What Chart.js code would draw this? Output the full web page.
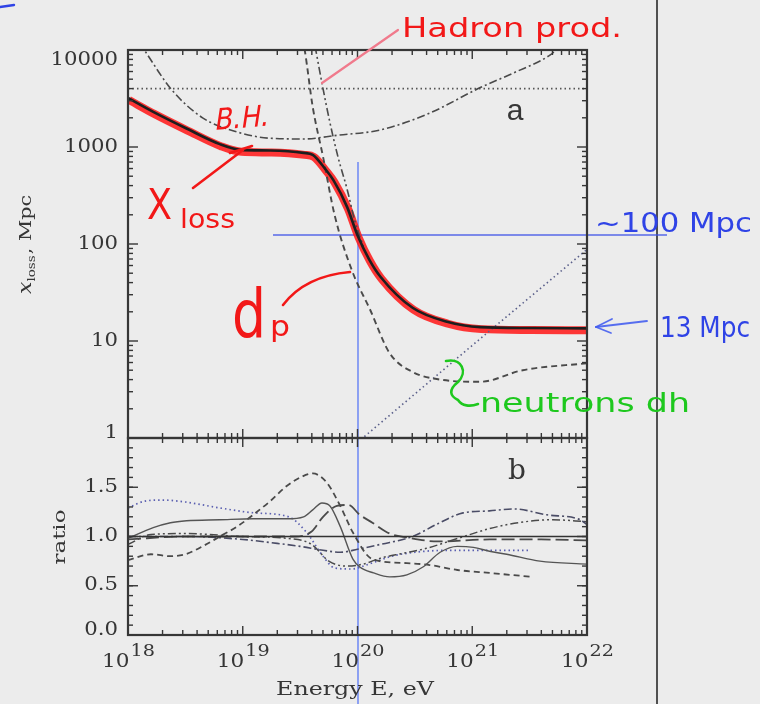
<!DOCTYPE html>
<html>
<head>
<meta charset="utf-8">
<script src="https://cdn.jsdelivr.net/npm/chart.js@4.4.1/dist/chart.umd.min.js"></script>
<style>
  html, body { margin: 0; padding: 0; background: #ececec; }
  #wrap { position: relative; width: 760px; height: 704px; overflow: hidden; }
  canvas { position: absolute; left: 0; top: 0; }
</style>
</head>
<body>
<div id="wrap">
  <canvas id="panelA" width="760" height="704"></canvas>
  <canvas id="panelB" width="760" height="704"></canvas>
</div>
<script>
// ---- axes (energy as log10 E/eV) ----
const energyTicks = [18, 19, 20, 21, 22];
const distTicks = [1, 10, 100, 1000, 10000];
const distTickLabels = ['1', '10', '100', '1000', '10000'];
const ratioTicks = [0, 0.5, 1.0, 1.5];
const ratioTickLabels = ['0.0', '0.5', '1.0', '1.5'];

// ---- panel a: attenuation / loss lengths, Mpc ----
const lossE   = [18.0, 18.22, 18.51, 18.8, 18.98, 19.24, 19.53, 19.61, 19.72, 19.79, 19.91, 20.0, 20.1, 20.2, 20.48, 20.78, 21.07, 21.5, 22.0];
const lossMpc = [3200, 2300, 1550, 1070, 935, 920, 870, 830, 590, 455, 240, 123, 70, 46, 22, 15.8, 13.9, 13.6, 13.5];

const pairE   = [18.10, 18.16, 18.38, 18.65, 18.95, 19.24, 19.53, 19.82, 20.2, 20.63, 21.07, 21.36, 21.68, 21.75];
const pairMpc = [12000, 9300, 3900, 2000, 1430, 1230, 1210, 1320, 1500, 2240, 4100, 5800, 8900, 10500];

const pionE   = [19.63, 19.69, 19.76, 19.83, 19.91, 19.98, 20.05];
const pionMpc = [11000, 4570, 1780, 790, 365, 167, 95];

const protonE   = [19.52, 19.54, 19.61, 19.70, 19.80, 19.95, 20.11, 20.28, 20.48, 20.72, 21.07, 21.44, 22.0];
const protonMpc = [13000, 10000, 2580, 790, 200, 54, 21, 7.5, 4.8, 4.0, 3.8, 5.0, 5.9];

const hubbleE   = [18, 22];
const hubbleMpc = [4000, 4000];

const neutronE   = [20.0, 21.0, 22.0];
const neutronMpc = [0.9, 9, 88];

// ---- panel b: ratios ----
const unityE = [18, 22];
const unity  = [1, 1];

const ratSolidE = [18.0, 18.22, 18.37, 18.51, 18.8, 19.09, 19.39, 19.53, 19.61, 19.69, 19.76, 19.85, 19.96, 20.02, 20.14, 20.28, 20.43, 20.57, 20.72, 20.87, 21.01, 21.15, 21.30, 21.59, 22.0];
const ratSolid  = [0.98, 1.09, 1.14, 1.16, 1.17, 1.18, 1.18, 1.2, 1.27, 1.34, 1.31, 1.10, 0.77, 0.69, 0.63, 0.59, 0.61, 0.69, 0.84, 0.90, 0.89, 0.85, 0.82, 0.75, 0.72];

const ratDashE = [18.0, 18.2, 18.37, 18.5, 18.65, 18.8, 18.95, 19.09, 19.24, 19.38, 19.52, 19.61, 19.73, 19.85, 19.96, 20.13, 20.43, 20.63, 20.87, 21.15, 21.53];
const ratDash  = [0.76, 0.82, 0.80, 0.82, 0.90, 1.0, 1.1, 1.22, 1.36, 1.51, 1.61, 1.64, 1.55, 1.31, 1.04, 0.77, 0.73, 0.71, 0.66, 0.63, 0.59];

const ratLongE = [18.0, 18.5, 19.0, 19.45, 19.6, 19.7, 19.82, 19.92, 20.02, 20.13, 20.28, 20.43, 20.7, 21.15, 21.6, 22.0];
const ratLong  = [0.97, 1.0, 1.0, 1.0, 1.05, 1.2, 1.31, 1.32, 1.22, 1.14, 1.03, 0.99, 0.95, 0.97, 0.97, 0.96];

const ratDotDashE = [18.0, 18.5, 19.0, 19.3, 19.5, 19.7, 19.85, 20.0, 20.2, 20.48, 20.7, 20.92, 21.15, 21.36, 21.65, 21.94, 22.0];
const ratDotDash  = [1.0, 1.0, 0.97, 0.93, 0.90, 0.86, 0.84, 0.87, 0.92, 1.0, 1.13, 1.24, 1.26, 1.28, 1.22, 1.17, 1.12];

const ratDDDE = [18.0, 18.2, 18.5, 19.0, 19.4, 19.6, 19.75, 19.9, 20.05, 20.2, 20.4, 20.6, 20.9, 21.15, 21.4, 21.7, 22.0];
const ratDDD  = [0.92, 1.02, 1.03, 1.0, 0.98, 0.92, 0.75, 0.70, 0.72, 0.78, 0.83, 0.88, 0.99, 1.08, 1.14, 1.17, 1.15];

const ratDotE = [18.0, 18.15, 18.3, 18.5, 18.8, 19.1, 19.4, 19.55, 19.7, 19.8, 19.95, 20.1, 20.3, 20.5, 20.8, 21.2, 21.5];
const ratDot  = [1.29, 1.36, 1.37, 1.35, 1.29, 1.24, 1.2, 1.05, 0.8, 0.68, 0.67, 0.72, 0.8, 0.84, 0.86, 0.86, 0.86];

// ---- styling ----
const INK = '#363636';
const CURVE = '#4a4a4a';
const SERIF = '"DejaVu Serif"';
const HAND = '"DejaVu Sans"';
const DASH = [6, 4], LONG = [13, 5], DOT = [1.5, 3], DASHDOT = [8, 3, 2, 3], DASHDOTDOT = [8, 3, 2, 3, 2, 3];

function series(xs, ys, style) {
  return Object.assign({
    data: xs.map((x, i) => ({ x: x, y: ys[i] })),
    pointRadius: 0, fill: false, clip: 0,
    cubicInterpolationMode: 'monotone',
    borderColor: CURVE, borderWidth: 1.6
  }, style);
}

function line(c, x1, y1, x2, y2) { c.beginPath(); c.moveTo(x1, y1); c.lineTo(x2, y2); c.stroke(); }

function stretchText(c, txt, x, y, font, sx, align, base, color) {
  c.save();
  c.font = font; c.fillStyle = color || INK;
  c.textAlign = align || 'left'; c.textBaseline = base || 'alphabetic';
  c.translate(x, y); c.scale(sx, 1); c.fillText(txt, 0, 0);
  c.restore();
}

function fitText(c, txt, x, y, font, width, color) {
  c.save();
  c.font = font; c.fillStyle = color; c.textAlign = 'left'; c.textBaseline = 'alphabetic';
  const w = c.measureText(txt).width;
  c.translate(x, y); c.scale(width / w, 1); c.fillText(txt, 0, 0);
  c.restore();
}

// inward ticks on all four sides of a panel
function drawFrame(chart, yMajor, yMinor) {
  const c = chart.ctx, a = chart.chartArea, xs = chart.scales.x, ys = chart.scales.y;
  c.save();
  c.strokeStyle = INK; c.lineWidth = 1.4;
  for (let d = 18; d <= 22; d++) {
    for (let m = 1; m <= 9; m++) {
      if (d === 22 && m > 1) break;
      const px = xs.getPixelForValue(d + Math.log10(m));
      const L = m === 1 ? 9 : 5;
      line(c, px, a.bottom, px, a.bottom - L);
      line(c, px, a.top, px, a.top + L);
    }
  }
  yMinor.forEach(v => { const py = ys.getPixelForValue(v); line(c, a.left, py, a.left + 5, py); line(c, a.right, py, a.right - 5, py); });
  yMajor.forEach(v => { const py = ys.getPixelForValue(v); line(c, a.left, py, a.left + 10, py); line(c, a.right, py, a.right - 10, py); });
  c.lineWidth = 2.2;
  c.strokeRect(a.left, a.top, a.right - a.left, a.bottom - a.top);
  c.restore();
}

function drawYLabels(chart, ticks, labels) {
  const c = chart.ctx, a = chart.chartArea, ys = chart.scales.y;
  ticks.forEach((v, i) => {
    const py = Math.min(Math.max(ys.getPixelForValue(v), a.top + 10), a.bottom - 5);
    stretchText(c, labels[i], a.left - 10, py, '18px ' + SERIF, 1.18, 'right', 'middle');
  });
}

const logMinor = [];
for (let d = 0; d < 4; d++) for (let m = 2; m <= 9; m++) logMinor.push(m * Math.pow(10, d));
const ratioMinor = [];
for (let k = 1; k < 20; k++) ratioMinor.push(k / 10);

// ---- panel a decorations ----
const panelADecor = {
  id: 'panelADecor',
  beforeDatasetsDraw(chart) {
    const c = chart.ctx;
    c.save();
    c.strokeStyle = '#505050'; c.lineWidth = 2;
    line(c, 657, 0, 657, 704);
    c.strokeStyle = 'rgba(95,125,245,0.85)'; c.lineWidth = 1.6;
    line(c, 358, 162, 358, 704);
    c.strokeStyle = 'rgba(60,80,230,0.85)'; c.lineWidth = 1.6;
    line(c, 273, 235, 667, 235);
    c.restore();
  },
  beforeDatasetDraw(chart, args) {
    if (chart.data.datasets[args.index].highlight) { chart.ctx.save(); chart.ctx.translate(1, 2); }
  },
  afterDatasetDraw(chart, args) {
    if (chart.data.datasets[args.index].highlight) chart.ctx.restore();
  },
  afterDatasetsDraw(chart) {
    const c = chart.ctx;
    drawFrame(chart, distTicks, logMinor);
    drawYLabels(chart, distTicks, distTickLabels);
    stretchText(c, 'a', 515, 120, '30px "Liberation Sans"', 1.0, 'center', 'alphabetic');

    // y-axis title: x_loss, Mpc
    c.save();
    c.translate(31, 245); c.rotate(-Math.PI / 2); c.scale(1.22, 1);
    c.fillStyle = INK; c.textBaseline = 'alphabetic'; c.textAlign = 'left';
    c.font = 'italic 18px ' + SERIF; const w1 = c.measureText('x').width;
    c.font = '11px ' + SERIF; const w2 = c.measureText('loss').width;
    c.font = '17px ' + SERIF; const w3 = c.measureText(', Mpc').width;
    let s = -(w1 + w2 + w3) / 2;
    c.font = 'italic 18px ' + SERIF; c.fillText('x', s, 0);
    c.font = '11px ' + SERIF; c.fillText('loss', s + w1, 4);
    c.font = '17px ' + SERIF; c.fillText(', Mpc', s + w1 + w2 + 1, 0);
    c.restore();
  },
  afterDraw(chart) {
    const c = chart.ctx;
    c.save();
    c.lineCap = 'round'; c.lineJoin = 'round';
    // red notes
    const RED = '#f21818';
    fitText(c, 'Hadron prod.', 402, 37, '26px ' + HAND, 220, RED);
    c.strokeStyle = '#f07a8c'; c.lineWidth = 2.2;
    line(c, 322, 83, 398, 30);
    c.save(); c.translate(214, 130); c.transform(1, -0.08, -0.15, 1, 0, 0);
    fitText(c, 'B.H.', 0, 0, '30px ' + HAND, 54, RED); c.restore();
    fitText(c, 'X', 147, 219, '42px ' + HAND, 25, RED);
    fitText(c, 'loss', 180, 228, '26px ' + HAND, 55, RED);
    c.strokeStyle = RED; c.lineWidth = 2.6;
    line(c, 193, 188, 243, 150);
    line(c, 230, 153, 252, 146);
    fitText(c, 'd', 232, 338, '68px ' + HAND, 34, RED);
    fitText(c, 'p', 270, 336, '28px ' + HAND, 20, RED);
    c.beginPath(); c.moveTo(283, 305); c.quadraticCurveTo(305, 276, 350, 272); c.stroke();
    // blue notes
    const BLUE = '#2f43e6';
    fitText(c, '~100 Mpc', 595, 232, '26px ' + HAND, 157, BLUE);
    fitText(c, '13 Mpc', 660, 337, '28px ' + HAND, 90, BLUE);
    c.strokeStyle = 'rgba(70,95,240,0.9)'; c.lineWidth = 1.8;
    line(c, 647, 321, 596, 327);
    line(c, 596, 327, 612, 319);
    line(c, 596, 327, 611, 333);
    c.lineWidth = 2.4; c.strokeStyle = BLUE;
    line(c, 0, 7, 14, 5);
    // green note
    const GREEN = '#1ec81e';
    c.strokeStyle = GREEN; c.lineWidth = 2.6;
    c.beginPath(); c.moveTo(446, 361);
    c.bezierCurveTo(462, 358, 468, 372, 458, 382);
    c.bezierCurveTo(448, 390, 450, 396, 458, 400);
    c.bezierCurveTo(462, 406, 470, 407, 478, 404);
    c.stroke();
    fitText(c, 'neutrons dh', 480, 412, '26px ' + HAND, 210, GREEN);
    c.restore();
  }
};

// ---- panel b decorations ----
const panelBDecor = {
  id: 'panelBDecor',
  afterDatasetsDraw(chart) {
    const c = chart.ctx, xs = chart.scales.x;
    drawFrame(chart, [0, 0.5, 1.0, 1.5, 2.0], ratioMinor);
    drawYLabels(chart, ratioTicks, ratioTickLabels);
    stretchText(c, 'b', 517, 479, '28px ' + SERIF, 1.0, 'center', 'alphabetic');
    // energy tick labels 10^n
    energyTicks.forEach(e => {
      const px = xs.getPixelForValue(e);
      c.save();
      c.font = '18px ' + SERIF; const wb = c.measureText('10').width * 1.2;
      c.font = '16px ' + SERIF; const ws = c.measureText(String(e)).width * 1.2;
      c.restore();
      const x0 = px - (wb + ws) / 2;
      stretchText(c, '10', x0, 667, '18px ' + SERIF, 1.2, 'left', 'alphabetic');
      stretchText(c, String(e), x0 + wb + 1, 656, '16px ' + SERIF, 1.2, 'left', 'alphabetic');
    });
    stretchText(c, 'Energy E, eV', 355, 695, '19px ' + SERIF, 1.25, 'center', 'alphabetic');
    // y-axis title
    c.save();
    c.translate(65, 537); c.rotate(-Math.PI / 2); c.scale(1.35, 1);
    c.font = '17px ' + SERIF; c.fillStyle = INK; c.textAlign = 'center'; c.textBaseline = 'alphabetic';
    c.fillText('ratio', 0, 0);
    c.restore();
  }
};

const common = {
  responsive: false, animation: false, devicePixelRatio: 1, events: [],
  plugins: { legend: { display: false }, tooltip: { enabled: false } }
};

new Chart(document.getElementById('panelA'), {
  type: 'line',
  data: {
    datasets: [
      series(lossE, lossMpc, { borderColor: 'rgba(255,28,28,0.88)', borderWidth: 8, order: 5, highlight: true }),
      series(lossE, lossMpc, { borderColor: '#1e1e1e', borderWidth: 2.6, order: 0 }),
      series(pairE, pairMpc, { borderDash: DASHDOT, order: 2 }),
      series(pionE, pionMpc, { borderDash: DASHDOTDOT, order: 2 }),
      series(protonE, protonMpc, { borderDash: DASH, borderWidth: 1.9, order: 2 }),
      series(hubbleE, hubbleMpc, { borderDash: DOT, borderWidth: 1.8, borderColor: '#555', tension: 0, cubicInterpolationMode: 'default', order: 3 }),
      series(neutronE, neutronMpc, { borderDash: DOT, borderWidth: 1.6, borderColor: '#5a5f8a', tension: 0, cubicInterpolationMode: 'default', order: 3 })
    ]
  },
  options: Object.assign({}, common, {
    layout: { padding: { left: 128, right: 173, top: 50, bottom: 266 } },
    scales: {
      x: { type: 'linear', min: 18, max: 22, display: false },
      y: { type: 'logarithmic', min: 1, max: 10000, display: false }
    }
  }),
  plugins: [panelADecor]
});

new Chart(document.getElementById('panelB'), {
  type: 'line',
  data: {
    datasets: [
      series(unityE, unity, { borderColor: '#333', borderWidth: 1.6, tension: 0, cubicInterpolationMode: 'default' }),
      series(ratSolidE, ratSolid, { borderColor: '#555', borderWidth: 1.4 }),
      series(ratDashE, ratDash, { borderDash: DASH, borderWidth: 1.8 }),
      series(ratLongE, ratLong, { borderDash: LONG, borderWidth: 1.8 }),
      series(ratDotDashE, ratDotDash, { borderDash: DASHDOT, borderWidth: 1.6, borderColor: '#4a4c66' }),
      series(ratDDDE, ratDDD, { borderDash: DASHDOTDOT, borderWidth: 1.5 }),
      series(ratDotE, ratDot, { borderDash: DOT, borderWidth: 1.7, borderColor: '#5a5fb0' })
    ]
  },
  options: Object.assign({}, common, {
    layout: { padding: { left: 128, right: 173, top: 438, bottom: 69 } },
    scales: {
      x: { type: 'linear', min: 18, max: 22, display: false },
      y: { type: 'linear', min: 0, max: 2, display: false }
    }
  }),
  plugins: [panelBDecor]
});
</script>
</body>
</html>
